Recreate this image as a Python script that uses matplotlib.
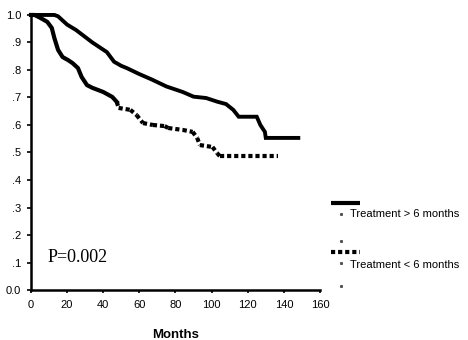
import numpy as np
import matplotlib
matplotlib.use('Agg')
import matplotlib.pyplot as plt
from matplotlib.lines import Line2D

# survival curve, treatment > 6 months
months_gt = [0, 13, 15, 20, 25, 29, 34, 42, 46, 50, 53, 60, 67, 75, 84, 90, 97,
             103, 108, 112, 115, 125, 127, 129.5, 130, 148]
surv_gt = [1.0, 1.0, 0.995, 0.965, 0.945, 0.925, 0.9, 0.865, 0.83, 0.815, 0.807,
           0.785, 0.765, 0.74, 0.72, 0.703, 0.698, 0.685, 0.676, 0.655, 0.63,
           0.63, 0.6, 0.575, 0.553, 0.553]

# survival curve, treatment < 6 months
months_lt = [0, 2, 5, 9, 11.5, 13, 15, 17.5, 20.5, 23, 26, 28, 31, 34, 40, 45,
             47.5, 48.5, 55, 58.5, 62, 67.5, 74, 76, 84, 89.5, 92, 93.5, 100.5,
             103, 104.5, 137]
surv_lt = [1.0, 1.0, 0.99, 0.975, 0.953, 0.915, 0.873, 0.847, 0.836, 0.825,
           0.807, 0.775, 0.745, 0.735, 0.72, 0.702, 0.684, 0.662, 0.655, 0.636,
           0.607, 0.6, 0.596, 0.589, 0.582, 0.575, 0.553, 0.527, 0.52, 0.498,
           0.487, 0.487]

xticks = [0, 20, 40, 60, 80, 100, 120, 140, 160]
yticks = [0.0, 0.1, 0.2, 0.3, 0.4, 0.5, 0.6, 0.7, 0.8, 0.9, 1.0]
ytick_labels = ['0.0', '.1', '.2', '.3', '.4', '.5', '.6', '.7', '.8', '.9', '1.0']
legend_labels = ['Treatment > 6 months', 'Treatment < 6 months']
p_text = 'P=0.002'

plt.rcParams['font.family'] = ['Liberation Sans', 'DejaVu Sans']

fig = plt.figure(figsize=(4.68, 3.4), dpi=100)
ax = fig.add_axes([0.0662, 0.147, 0.6175, 0.809])

ax.plot(months_gt, surv_gt, color='black', lw=2.8, clip_on=False,
        solid_joinstyle='miter')

# dashed curve: the steep early part prints solid in the original,
# afterwards every piece restarts its dash pattern
k = months_lt.index(47.5)
ax.plot(months_lt[:k + 1], surv_lt[:k + 1], color='black', lw=3, clip_on=False)
pts = np.column_stack([months_lt, surv_lt])[k:]
for a, b in zip(pts[:-1], pts[1:]):
    ax.plot([a[0], b[0]], [a[1], b[1]], color='black', lw=3,
            dashes=(1.0, 0.7), dash_capstyle='butt', clip_on=False)

ax.set_xlim(0, 160)
ax.set_ylim(0, 1.0)
ax.set_xticks(xticks)
ax.set_yticks(yticks)
ax.set_yticklabels(ytick_labels)
for s in ['top', 'right']:
    ax.spines[s].set_visible(False)
for s in ['left', 'bottom']:
    ax.spines[s].set_linewidth(1.8)
ax.tick_params(axis='y', length=3, width=1.2, pad=4, labelsize=8)
ax.tick_params(axis='x', length=2, width=1.2, pad=5, labelsize=8)
ax.set_xlabel('Months', fontsize=9.5, fontweight='bold', labelpad=14)

ax.text(9.4, 0.12, p_text, family=['Liberation Serif', 'DejaVu Serif'],
        fontsize=13, ha='left', va='center')

# legend drawn by hand, outside the axes
W, H = 468.0, 340.0
def fx(px):
    return px / W
def fy(py):
    return 1 - py / H

fig.add_artist(Line2D([fx(331), fx(360)], [fy(202.5), fy(202.5)],
                      color='black', lw=3, solid_capstyle='butt'))
fig.add_artist(Line2D([fx(331), fx(360)], [fy(251.5), fy(251.5)],
                      color='black', lw=3, dashes=(1.0, 0.7),
                      dash_capstyle='butt'))
for py in [214, 241, 263, 286]:
    fig.add_artist(Line2D([fx(340.5)], [fy(py)], marker='s', ms=1.2,
                          color='#555555', lw=0))
fig.text(fx(350), fy(214), legend_labels[0], fontsize=8, ha='left', va='center')
fig.text(fx(350), fy(265), legend_labels[1], fontsize=8, ha='left', va='center')

fig.savefig('out.png', dpi=100)
